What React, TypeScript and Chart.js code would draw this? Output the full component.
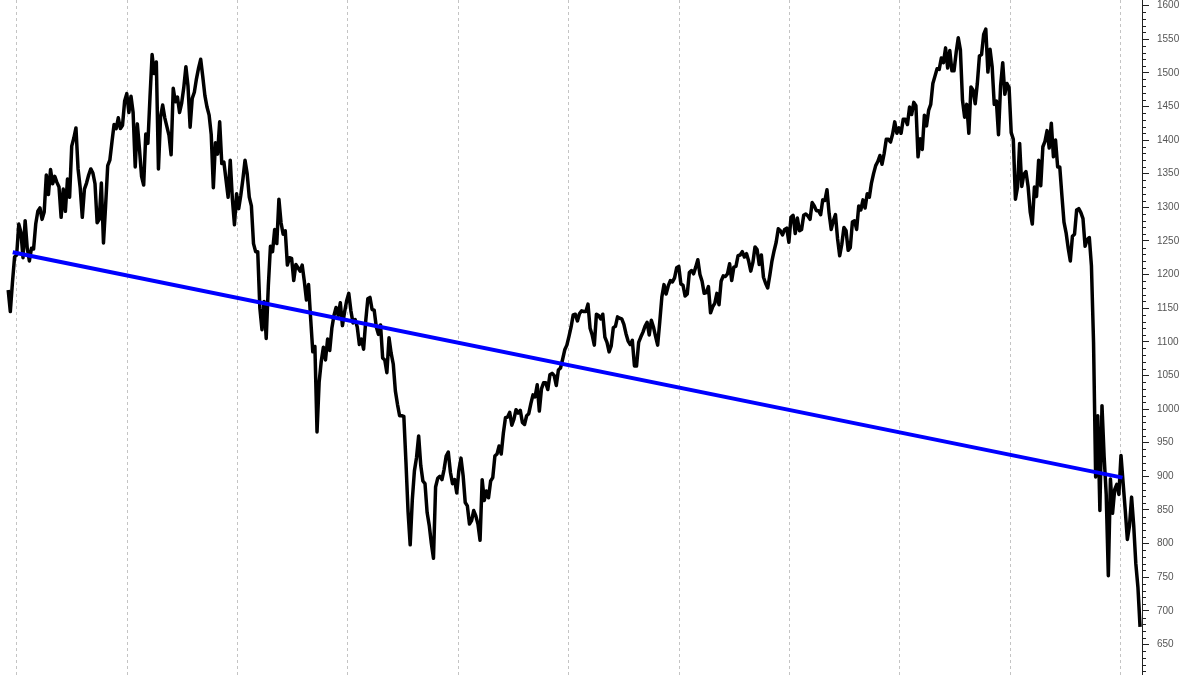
import React, { useEffect, useRef } from 'react';
import { Chart, registerables } from 'chart.js';

Chart.register(...registerables);

// Weekly closes of the index (week ending Friday), first week ends 1998-12-04
const firstWeekEnding = [1998, 12, 4];

const spx1998 = [1177, 1145, 1188, 1226];
const spx1999 = [
  1229, 1275, 1263, 1225, 1280,
  1239, 1220, 1239, 1238,
  1275, 1294, 1299, 1282,
  1293, 1348, 1319, 1356, 1335,
  1346, 1337, 1330, 1285,
  1327, 1294, 1342, 1315,
  1391, 1403, 1418, 1357, 1329,
  1285, 1327, 1336, 1348,
  1357, 1351, 1335, 1277,
  1282, 1336, 1247, 1302, 1362,
  1370, 1397, 1423, 1417,
  1433, 1417, 1422, 1458, 1469,
];
const spx2000 = [
  1441, 1465, 1441, 1360,
  1424, 1387, 1346, 1333,
  1409, 1395, 1464, 1527, 1499,
  1516, 1357, 1434, 1452,
  1433, 1420, 1407, 1378,
  1477, 1457, 1464, 1441, 1455,
  1478, 1509, 1480, 1419,
  1462, 1471, 1491, 1507,
  1520, 1494, 1466, 1449, 1437,
  1408, 1329, 1396, 1379,
  1427, 1365, 1367, 1341,
  1315, 1370, 1313, 1274, 1320,
];
const spx2001 = [
  1298, 1318, 1342, 1370,
  1350, 1315, 1302, 1246,
  1234, 1234, 1150, 1118, 1160,
  1105, 1183, 1242, 1234,
  1267, 1246, 1312, 1277,
  1260, 1265, 1214, 1225, 1224,
  1191, 1215, 1210, 1205,
  1214, 1190, 1162, 1185, 1134,
  1085, 1093, 966, 1040,
  1071, 1092, 1073, 1104,
  1087, 1120, 1139, 1151, 1139,
  1158, 1124, 1144, 1161,
];
const spx2002 = [
  1172, 1146, 1128, 1133,
  1122, 1096, 1104, 1089,
  1131, 1164, 1166, 1148, 1147,
  1122, 1111, 1125, 1076,
  1073, 1054, 1106, 1083, 1067,
  1027, 1007, 990, 990,
  989, 921, 847, 798,
  865, 908, 928, 960, 916,
  893, 889, 846, 827,
  800, 778, 884, 897,
  900, 895, 910, 930, 936,
  906, 889, 895, 875,
];
const spx2003 = [
  909, 927, 901, 861, 856,
  829, 834, 849, 841,
  829, 805, 895, 864,
  878, 868, 893, 898,
  930, 933, 945, 933, 964,
  987, 988, 995, 976,
  985, 999, 994, 998,
  980, 977, 990, 993, 1008,
  1021, 1018, 1036, 997,
  1030, 1039, 1039, 1029, 1051,
  1053, 1050, 1035, 1058,
  1061, 1074, 1088, 1095,
];
const spx2004 = [
  1108, 1122, 1140, 1141, 1131,
  1142, 1146, 1145, 1145,
  1156, 1120, 1110, 1095,
  1141, 1139, 1134, 1141, 1107,
  1099, 1085, 1094, 1121,
  1123, 1137, 1135, 1134,
  1126, 1112, 1101, 1096, 1102,
  1064, 1064, 1099, 1107,
  1114, 1123, 1129, 1110,
  1132, 1122, 1108, 1095, 1130,
  1167, 1185, 1171, 1183,
  1191, 1189, 1195, 1210, 1212,
];
const spx2005 = [
  1186, 1184, 1168, 1171,
  1203, 1206, 1201, 1211,
  1222, 1200, 1190, 1172,
  1173, 1182, 1143, 1152, 1157,
  1172, 1155, 1190, 1198,
  1197, 1201, 1216, 1191,
  1211, 1212, 1228, 1229, 1234,
  1226, 1231, 1220, 1205,
  1218, 1241, 1237, 1215, 1229,
  1196, 1187, 1180, 1199,
  1220, 1235, 1248, 1268,
  1265, 1259, 1267, 1269, 1248,
];
const spx2006 = [
  1285, 1288, 1261, 1284,
  1265, 1267, 1288, 1290,
  1287, 1282, 1307, 1302, 1295,
  1295, 1289, 1311, 1310,
  1326, 1291, 1267, 1280,
  1289, 1253, 1228, 1245, 1270,
  1265, 1236, 1240, 1278,
  1280, 1267, 1302, 1296,
  1311, 1299, 1320, 1315, 1336,
  1350, 1362, 1368, 1377,
  1364, 1380, 1401, 1401,
  1397, 1409, 1427, 1410, 1418,
];
const spx2007 = [
  1410, 1431, 1431, 1423,
  1449, 1438, 1456, 1451,
  1375, 1402, 1386, 1437, 1421,
  1444, 1453, 1484, 1495,
  1506, 1505, 1522, 1515,
  1537, 1507, 1533, 1503, 1503,
  1530, 1552, 1534, 1459,
  1434, 1453, 1410, 1479, 1474,
  1454, 1484, 1525, 1527,
  1557, 1565, 1501, 1535,
  1509, 1453, 1458, 1408, 1481,
  1515, 1468, 1484, 1478,
];
const spx2008 = [
  1411, 1401, 1312, 1330,
  1395, 1331, 1349, 1353, 1331,
  1293, 1275, 1330, 1316,
  1370, 1332, 1390, 1398,
  1414, 1388, 1425, 1375, 1400,
  1360, 1360, 1318, 1278,
  1262, 1239, 1220, 1257,
  1260, 1296, 1298, 1292, 1283,
  1242, 1252, 1255, 1213,
  1099, 899, 990, 849, 1005,
  930, 873, 752, 896,
  845, 880, 888, 873,
];
const spx2009 = [
  931, 890, 850, 806, 826,
  869, 827, 770, 735,
  676,
];

// Trend line (two anchor points)
const trendDates = [[1998, 12, 19], [2009, 1, 7]];
const trendValues = [1233, 898];

// Axes
const yearGridLines = [1999, 2000, 2001, 2002, 2003, 2004, 2005, 2006, 2007, 2008, 2009];
const yTickValues = [650, 700, 750, 800, 850, 900, 950, 1000, 1050, 1100, 1150, 1200, 1250, 1300, 1350, 1400, 1450, 1500, 1550, 1600];
const xMin = 1998.849;
const xMax = 2009.193;
const yMin = 604.5;
const yMax = 1608.2;

const DAY = 86400000;
function toDecimalYear(t: number): number {
  const y = new Date(t).getUTCFullYear();
  const a = Date.UTC(y, 0, 1);
  const b = Date.UTC(y + 1, 0, 1);
  return y + (t - a) / (b - a);
}

const minorTicksPlugin = {
  id: 'minorTicks',
  afterDraw(chart: any) {
    const s = chart.scales.y;
    const ctx = chart.ctx;
    ctx.save();
    ctx.strokeStyle = '#222';
    ctx.lineWidth = 1;
    for (let v = Math.ceil(s.min / 10) * 10; v <= s.max; v += 10) {
      if (v % 50 === 0) continue;
      const y = Math.round(s.getPixelForValue(v)) + 0.5;
      ctx.beginPath();
      ctx.moveTo(s.left, y);
      ctx.lineTo(s.left + 4, y);
      ctx.stroke();
    }
    ctx.restore();
  },
};

export default function App() {
  const ref = useRef<HTMLCanvasElement>(null);

  useEffect(() => {
    const weekly = [
      ...spx1998, ...spx1999, ...spx2000, ...spx2001, ...spx2002, ...spx2003,
      ...spx2004, ...spx2005, ...spx2006, ...spx2007, ...spx2008, ...spx2009,
    ];
    const t0 = Date.UTC(firstWeekEnding[0], firstWeekEnding[1] - 1, firstWeekEnding[2]);
    const priceData = weekly.map((v, i) => ({ x: toDecimalYear(t0 + i * 7 * DAY), y: v }));
    const trendData = trendDates.map((d, i) => ({
      x: toDecimalYear(Date.UTC(d[0], d[1] - 1, d[2])),
      y: trendValues[i],
    }));

    const chart = new Chart(ref.current as HTMLCanvasElement, {
      type: 'line',
      data: {
        datasets: [
          {
            data: trendData,
            borderColor: 'rgb(0,0,255)',
            borderWidth: 4,
            pointRadius: 0,
            order: 0,
          },
          {
            data: priceData,
            borderColor: '#000000',
            borderWidth: 3.5,
            pointRadius: 0,
            tension: 0,
            borderJoinStyle: 'round',
            order: 1,
          },
        ],
      },
      options: {
        animation: false,
        responsive: false,
        parsing: true,
        layout: { padding: 0, autoPadding: false },
        plugins: { legend: { display: false }, tooltip: { enabled: false } },
        scales: {
          x: {
            type: 'linear',
            min: xMin,
            max: xMax,
            afterBuildTicks: (s: any) => {
              s.ticks = yearGridLines.map((v) => ({ value: v }));
            },
            afterFit: (s: any) => {
              s.height = 0;
              s.paddingLeft = 0;
              s.paddingRight = 0;
            },
            ticks: { display: false },
            grid: { display: true, drawTicks: false, color: '#c4c4c4', lineWidth: 1 },
            border: { display: false, dash: [3, 3] },
          },
          y: {
            type: 'linear',
            position: 'right',
            min: yMin,
            max: yMax,
            afterBuildTicks: (s: any) => {
              s.ticks = yTickValues.map((v) => ({ value: v }));
            },
            afterFit: (s: any) => {
              s.width = 58;
              s.paddingTop = 0;
              s.paddingBottom = 0;
            },
            grid: { drawOnChartArea: false, drawTicks: true, tickLength: 7, tickColor: '#222', tickWidth: 1 },
            border: { display: true, color: '#222', width: 1 },
            ticks: {
              color: '#555',
              padding: 8,
              font: { family: '"Liberation Sans", Arial, sans-serif', size: 10 },
              callback: (v: any) => String(v),
            },
          },
        },
      } as any,
      plugins: [minorTicksPlugin],
    });
    return () => chart.destroy();
  }, []);

  return (
    <div style={{ position: 'fixed', left: 0, top: 0, width: 1200, height: 675, background: '#fff' }}>
      <canvas ref={ref} width={1200} height={675} style={{ display: 'block' }} />
    </div>
  );
}
